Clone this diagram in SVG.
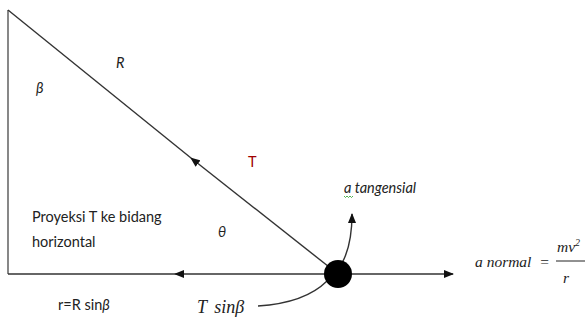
<svg xmlns="http://www.w3.org/2000/svg" width="585" height="320" viewBox="0 0 585 320">
<style>
.ln{stroke:#333;stroke-width:1.4;fill:none}
.t{font-family:Lato,"Liberation Sans",sans-serif;font-size:14.5px;fill:#222}
.i{font-style:italic}
.m{font-family:"Liberation Serif","DejaVu Serif",serif;font-style:italic;fill:#222}
</style>
<defs>
<marker id="ah" markerWidth="10" markerHeight="8" refX="9" refY="4" orient="auto" markerUnits="userSpaceOnUse">
<path d="M0,0 L10,4 L0,8 Z" fill="#111"/>
</marker>
</defs>
<rect width="585" height="320" fill="#fff"/>
<g id="connectors">
<line class="ln" x1="8" y1="10" x2="8" y2="274" style="stroke:#555"/>
<line class="ln" x1="338" y1="274" x2="191" y2="158" marker-end="url(#ah)"/>
<line class="ln" x1="191" y1="158" x2="8" y2="10"/>
<line class="ln" x1="338" y1="274" x2="175" y2="274" marker-end="url(#ah)"/>
<line class="ln" x1="175" y1="274" x2="8" y2="274"/>
<line class="ln" x1="338" y1="274" x2="453" y2="274" marker-end="url(#ah)"/>
<path class="ln" d="M342,263 Q352,245 352,214" marker-end="url(#ah)"/>
<path class="ln" d="M258,306 Q305,303 327,281"/>
</g>
<g id="ball"><circle cx="338" cy="274" r="14" fill="#000"/></g>
<g id="labels">
<text class="t i" x="116" y="68">R</text>
<text class="t i" x="36" y="93">β</text>
<text class="t" x="248" y="167" style="fill:#a00000">T</text>
<text class="t i" x="218" y="237">θ</text>
<g id="a-tangensial">
<text class="t i" x="344" y="193">a tangensial</text>
<path d="M344,196 l1.5,1.5 l1.5,-1.5 l1.5,1.5 l1.5,-1.5 l1.5,1.5 l1.5,-1.5" stroke="#2a9d2a" stroke-width="0.8" fill="none"/>
</g>
<g id="proyeksi">
<text class="t" x="32" y="222">Proyeksi T ke bidang</text>
<text class="t" x="32" y="247">horizontal</text>
</g>
<text class="t" x="58" y="310">r=R sin<tspan class="i">β</tspan></text>
<text class="m" x="197" y="313" font-size="18">T <tspan dx="3">sinβ</tspan></text>
<g id="a-normal">
<text class="m" x="475" y="267" font-size="15.5" xml:space="preserve">a normal  =</text>
<text class="m" x="557" y="252" font-size="15.5">mv<tspan font-size="10" dy="-6">2</tspan></text>
<line x1="556" y1="261" x2="585" y2="261" stroke="#222" stroke-width="1"/>
<text class="m" x="563" y="283" font-size="15.5">r</text>
</g>
</g>
</svg>
